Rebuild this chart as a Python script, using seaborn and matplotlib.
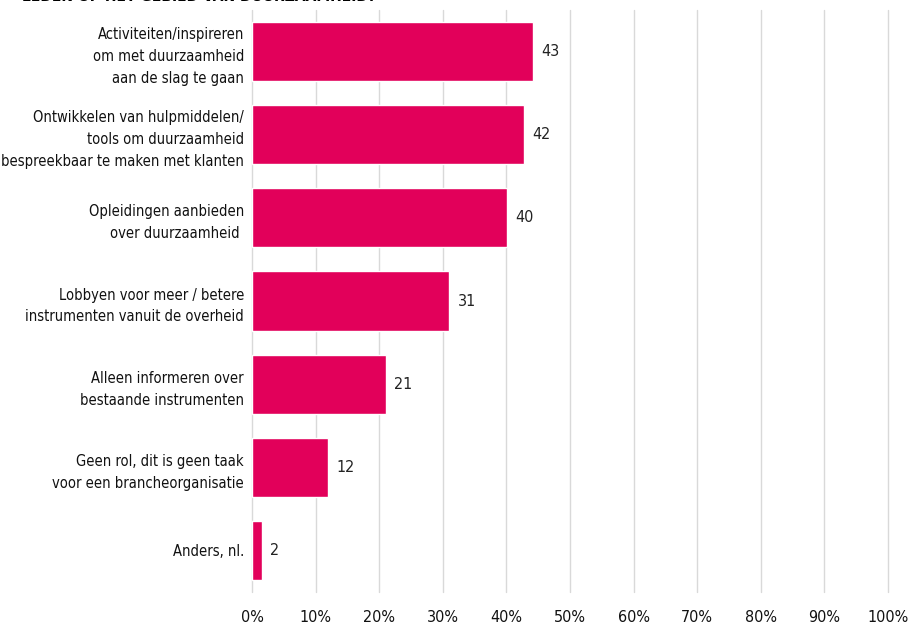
import matplotlib
matplotlib.use('Agg')
import matplotlib.pyplot as plt
import seaborn as sns
import pandas as pd

# Data
categories = [
    'Activiteiten/inspireren\nom met duurzaamheid\naan de slag te gaan',
    'Ontwikkelen van hulpmiddelen/\ntools om duurzaamheid\nbespreekbaar te maken met klanten',
    'Opleidingen aanbieden\nover duurzaamheid ',
    'Lobbyen voor meer / betere\ninstrumenten vanuit de overheid',
    'Alleen informeren over\nbestaande instrumenten',
    'Geen rol, dit is geen taak\nvoor een brancheorganisatie',
    'Anders, nl.',
]
percentages = [44.2, 42.8, 40.1, 31.0, 21.0, 12.0, 1.5]
value_labels = ['43', '42', '40', '31', '21', '12', '2']
x_ticks = [0, 10, 20, 30, 40, 50, 60, 70, 80, 90, 100]
title_line = 'LEDEN OP HET GEBIED VAN DUURZAAMHEID?'

df = pd.DataFrame({'categorie': categories, 'percentage': percentages})

sns.set_style('white')
plt.rcParams['font.family'] = ['DejaVu Sans']
plt.rcParams['font.stretch'] = 'condensed'

fig = plt.figure(figsize=(9.08, 6.25), dpi=100)
ax = fig.add_axes([0.2775, 0.0528, 0.978 - 0.2775, 0.984 - 0.0528])

sns.barplot(data=df, x='percentage', y='categorie', orient='h',
            color='#E2005A', saturation=1, width=0.71, ax=ax)

ax.set_xlim(0, 100)
ax.set_xticks(x_ticks)
ax.set_xticklabels([f'{t}%' for t in x_ticks], fontsize=11.5, color='#111111')
ax.xaxis.grid(True, color='#D9D9D9', linewidth=1, clip_on=False)
ax.set_axisbelow(True)
for s in ax.spines.values():
    s.set_visible(False)
ax.tick_params(axis='x', length=0, pad=13)
ax.tick_params(axis='y', which='major', length=0, pad=5.8, labelsize=10.5,
               labelcolor='#111111')
ax.set_yticks([i - 0.5 for i in range(len(categories) + 1)], minor=True)
ax.tick_params(axis='y', which='minor', direction='in', length=11.5,
               color='#D9D9D9', width=1)
for lbl in ax.get_yticklabels():
    lbl.set_linespacing(1.58)
ax.set_xlabel('')
ax.set_ylabel('')

for i, (v, t) in enumerate(zip(percentages, value_labels)):
    ax.text(v + 1.3, i, t, va='center', ha='left', fontsize=11.5, color='#222222')

fig.text(22 / 908, 1 - 1 / 625, title_line, fontsize=10, fontweight='heavy',
         fontstretch='normal', ha='left', va='baseline', color='black')

fig.savefig('out.png', dpi=100)
